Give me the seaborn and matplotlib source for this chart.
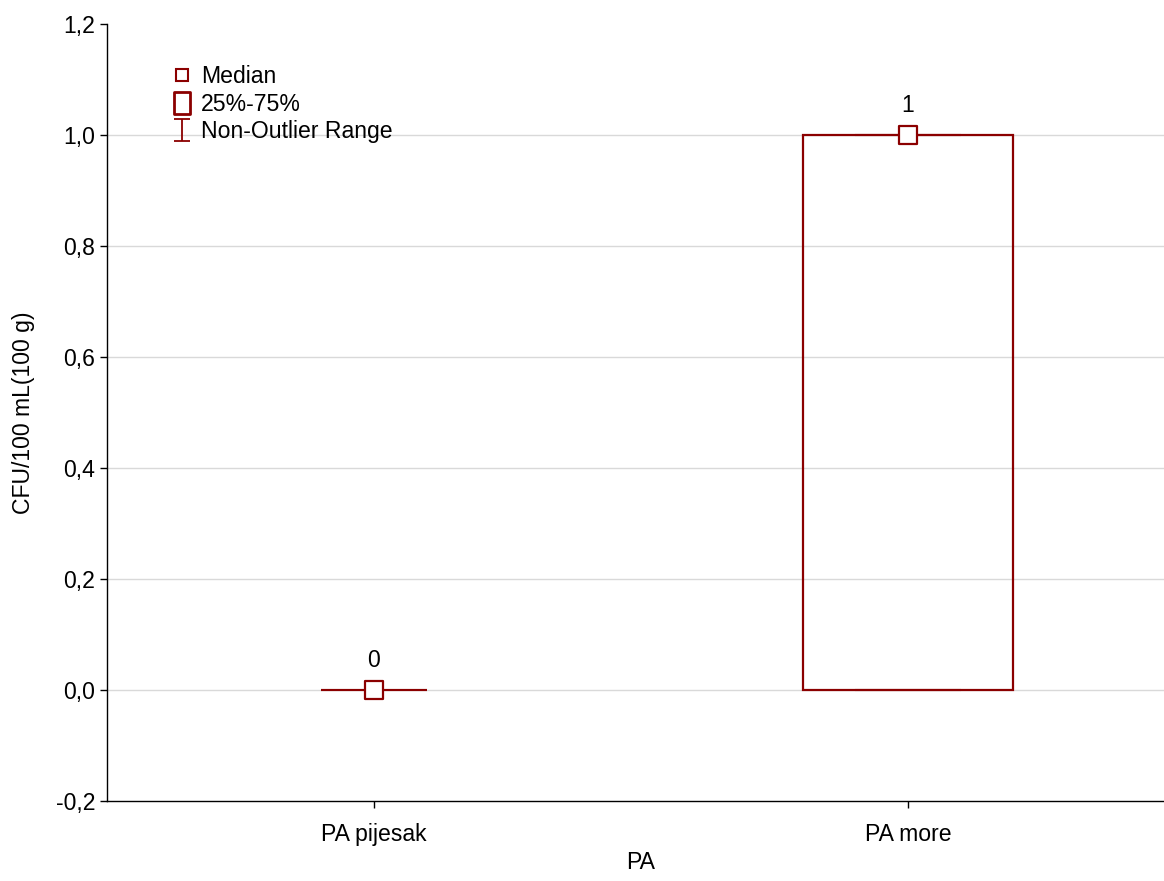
import matplotlib
matplotlib.use("Agg")
import matplotlib.pyplot as plt
import matplotlib.ticker as mticker
from matplotlib.lines import Line2D
from matplotlib.path import Path
import numpy as np
import seaborn as sns

# Summary statistics
groups = ["PA pijesak", "PA more"]
medians = [0, 1]
q1 = [0, 0]
q3 = [0, 1]
whisker_lo = [0, 0]
whisker_hi = [0, 1]

RED = "#8B0000"
FS = 16.6

sns.set_theme(style="white")
plt.rcParams["font.family"] = ["Liberation Sans", "DejaVu Sans"]
plt.rcParams["text.color"] = "black"
plt.rcParams["axes.labelcolor"] = "black"

fig = plt.figure(figsize=(11.64, 8.81), dpi=100)
ax = fig.add_axes([107 / 1164, 80 / 881, 1068 / 1164, 777 / 881])

pos = np.arange(len(groups))
heights = np.array(q3) - np.array(q1)

# grid first
ax.set_ylim(-0.2, 1.2)
ax.set_xlim(-0.5, 1.5)
ax.set_yticks(np.arange(-0.2, 1.21, 0.2))
ax.yaxis.grid(True, color="#d9d9d9", lw=1, zorder=0)
ax.set_axisbelow(True)

# whisker caps
cap_w = 0.1
ax.hlines(whisker_lo, pos - cap_w, pos + cap_w, color=RED, lw=1.5, zorder=2)
ax.hlines(whisker_hi, pos - cap_w, pos + cap_w, color=RED, lw=1.5, zorder=2)
ax.vlines(pos, whisker_lo, q1, color=RED, lw=1.5, zorder=2)
ax.vlines(pos, q3, whisker_hi, color=RED, lw=1.5, zorder=2)

# boxes (zero-height boxes are not drawn)
ax.bar(pos, heights, bottom=q1, width=0.395, fill=False, edgecolor=RED,
       linewidth=[1.6 if h > 0 else 0 for h in heights], zorder=3)

# medians
sns.scatterplot(x=pos, y=medians, marker="s", s=150, color="white",
                edgecolor=RED, linewidth=1.6, zorder=5, ax=ax, legend=False)
for x, m in zip(pos, medians):
    ax.annotate(f"{m:g}", (x, m), xytext=(0, 13), textcoords="offset points",
                ha="center", va="bottom", fontsize=FS)

# axes styling
ax.set_xticks(pos)
ax.set_xticklabels(groups)
ax.yaxis.set_major_formatter(
    mticker.FuncFormatter(lambda v, p: f"{v:.1f}".replace(".", ",")))
gl = ax.get_ygridlines()
gl[-1].set_visible(False)
gl[0].set_visible(False)
for s in ["top", "right"]:
    ax.spines[s].set_visible(False)
for s in ["left", "bottom"]:
    ax.spines[s].set_color("black")
    ax.spines[s].set_linewidth(1)
ax.tick_params(axis="both", direction="out", length=5, width=1, color="black",
               labelsize=FS, labelcolor="black", bottom=True, left=True)
ax.tick_params(axis="x", pad=11)
ax.set_xlabel("PA", fontsize=FS, labelpad=3.5)
ax.set_ylabel("CFU/100 mL(100 g)", fontsize=FS, labelpad=15)

# legend
box_path = Path([(-0.38, -0.5), (0.38, -0.5), (0.38, 0.5), (-0.38, 0.5), (-0.38, -0.5)],
                [Path.MOVETO, Path.LINETO, Path.LINETO, Path.LINETO, Path.CLOSEPOLY])
whisk_path = Path([(-0.35, 0.5), (0.35, 0.5), (0, 0.5), (0, -0.5), (-0.35, -0.5), (0.35, -0.5)],
                  [Path.MOVETO, Path.LINETO, Path.MOVETO, Path.LINETO, Path.MOVETO, Path.LINETO])
handles = [
    Line2D([], [], ls="", marker="s", ms=9, mfc="white", mec=RED, mew=1.5),
    Line2D([], [], ls="", marker=box_path, ms=16, mfc="white", mec=RED, mew=2),
    Line2D([], [], ls="", marker=whisk_path, ms=16, mfc="none", mec=RED, mew=1.3),
]
ax.legend(handles, ["Median", "25%-75%", "Non-Outlier Range"], loc="upper left",
          bbox_to_anchor=(0.049, 0.962), frameon=False, fontsize=FS,
          handlelength=1.0, handletextpad=0.3, labelspacing=0.2, borderpad=0)

fig.savefig("out.png", dpi=100)
